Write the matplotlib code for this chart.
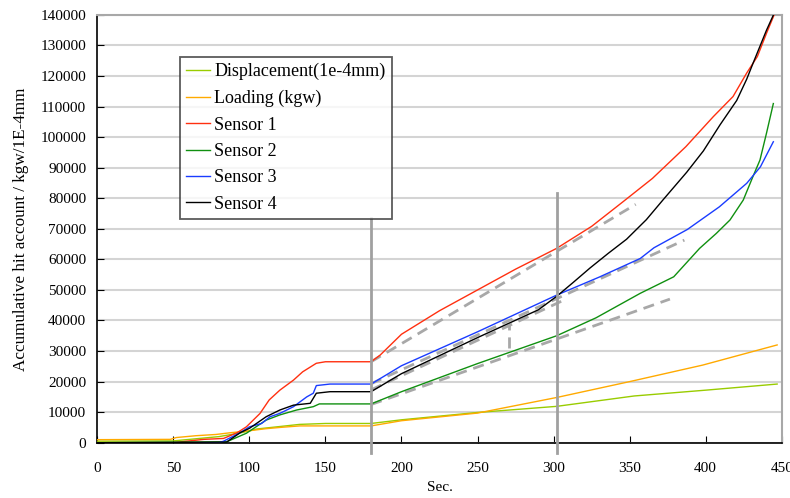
import numpy as np
import matplotlib
matplotlib.use("Agg")
import matplotlib.pyplot as plt

plt.rcParams['font.family'] = ['Liberation Serif', 'DejaVu Serif']

# values, in thousands
s1_t = [0, 50, 55, 70, 83, 92, 98, 107, 113, 120, 129, 135, 144, 150, 180, 186, 200, 225, 250, 275,
        302, 325, 346, 365, 387, 405, 418, 427, 434, 440, 445]
s1_v = [0, 0, 0.3, 1.1, 1.4, 3.3, 5.2, 9.6, 14, 17.2, 20.5, 23.2, 26, 26.5, 26.5, 28.7, 35.5, 43.2, 50, 56.8,
        63.6, 70.8, 79, 86.5, 96.9, 106.7, 113.3, 121, 126.4, 134, 140]

s2_t = [0, 85, 98, 111, 120, 131, 142, 146, 180, 200, 250, 302, 328, 357, 379, 396, 407, 416, 424.7,
        431, 435.7, 440, 444.5]
s2_v = [0, 0.3, 3.1, 7.4, 9.1, 10.7, 11.8, 12.7, 12.7, 16.7, 25.9, 35, 40.9, 48.9, 54.3, 63.6, 68.5,
        72.9, 79.4, 87, 92.5, 101.3, 111]

s3_t = [0, 80, 83, 94, 100, 108, 113.5, 120, 129, 137.7, 142, 144, 153, 180, 200, 250, 302, 330, 357,
        366, 388, 409, 427, 436, 444.5]
s3_v = [0, 0, 0.5, 3.3, 5.2, 6.3, 8.5, 9.6, 11.8, 15, 16.2, 18.7, 19.2, 19.2, 25.2, 36.3, 48.3, 54.2,
        60.3, 63.8, 69.8, 77.2, 84.9, 90.3, 98.5]

s4_t = [0, 85, 94, 100, 111, 120, 129, 140, 144, 153, 180, 200, 250, 290, 302, 313, 324, 336, 348, 361,
        372, 387.5, 398.5, 409.4, 420.4, 427, 431, 440, 445]
s4_v = [0, 0.2, 3.3, 4.7, 8.5, 10.7, 12.3, 12.9, 16.2, 16.7, 16.7, 22.6, 34.4, 43.5, 47.9, 52.5, 57.2,
        62, 66.6, 73, 79.5, 88.5, 95.5, 104, 112, 119, 124, 135, 140.5]

load_t = [0, 48, 52, 65, 78, 88, 98, 111, 120, 133, 150, 180, 200, 250, 302, 350, 398, 447]
load_v = [1.0, 1.1, 1.7, 2.3, 2.7, 3.3, 3.8, 4.6, 5.0, 5.5, 5.5, 5.5, 7.2, 9.7, 14.8, 20, 25.4, 32]

disp_t = [0, 50, 80, 95, 105, 120, 133, 150, 180, 200, 250, 302, 353, 400, 447]
disp_v = [0.5, 0.6, 2.0, 3.3, 4.5, 5.3, 6.0, 6.3, 6.3, 7.5, 9.9, 11.9, 15.3, 17.2, 19.2]

# fitted (dashed) lines, start/end
fit_t = [[180, 354], [180, 386], [180, 306], [180, 376.5]]
fit_v = [[26.5, 78], [19.3, 66.3], [17.3, 46.5], [12.5, 47]]
mark_t = 271
mark_v = [31, 38.5]

vline_t = [180, 302]
vline_top = [73.5, 81.7]

fig = plt.figure(figsize=(7.9, 4.98), dpi=100)
ax = fig.add_axes([0.1232, 0.111, 0.8663, 0.859])

k = 1000.0
ax.plot(disp_t, np.array(disp_v) * k, color='#99cc00', lw=1, label='Displacement(1e-4mm)', zorder=3)
ax.plot(load_t, np.array(load_v) * k, color='#ffaa00', lw=1, label='Loading (kgw)', zorder=3)
ax.plot(s1_t, np.array(s1_v) * k, color='#ff3010', lw=1, label='Sensor 1', zorder=3)
ax.plot(s2_t, np.array(s2_v) * k, color='#109010', lw=1, label='Sensor 2', zorder=3)
ax.plot(s3_t, np.array(s3_v) * k, color='#1a3cff', lw=1, label='Sensor 3', zorder=3)
ax.plot(s4_t, np.array(s4_v) * k, color='#000000', lw=1, label='Sensor 4', zorder=3)

for tt, vv in zip(fit_t, fit_v):
    ax.plot(tt, np.array(vv) * k, color='#a8a8a8', lw=2, ls=(0, (4, 2.5)), zorder=2)
ax.plot([mark_t, mark_t], np.array(mark_v) * k, color='#a8a8a8', lw=2, ls=(0, (4, 2.5)), zorder=2)

for tt, top in zip(vline_t, vline_top):
    ax.plot([tt, tt], [-3300, top * k], color='#a0a0a0', lw=2, clip_on=False, zorder=4)

ax.set_xlim(0, 450)
ax.set_ylim(0, 140000)
ax.set_xticks(np.arange(0, 451, 50))
ax.set_yticks(np.arange(0, 140001, 10000))
ax.yaxis.grid(True, color='#d4d4d4', lw=1.5)
ax.set_axisbelow(True)
ax.tick_params(direction='in', length=5, labelsize=11, colors='black')
ax.tick_params(axis='y', pad=8)
ax.tick_params(axis='x', pad=14)
for side in ['top', 'right']:
    ax.spines[side].set_color('#a8a8a8')
    ax.spines[side].set_linewidth(1.5)
for side in ['left', 'bottom']:
    ax.spines[side].set_linewidth(1.2)

ax.set_xlabel('Sec.', fontsize=11, labelpad=4)
ax.set_ylabel('Accumulative hit account / kgw/1E-4mm', fontsize=12.3, labelpad=8)

leg = ax.legend(loc='upper left', bbox_to_anchor=(0.121, 0.902), fontsize=13, frameon=True,
                fancybox=False, edgecolor='#333333', handlelength=1.3, labelspacing=0.52,
                borderpad=0.35, handletextpad=0.25, borderaxespad=0)
leg.get_frame().set_linewidth(1.3)

fig.savefig('out.png', dpi=100)
